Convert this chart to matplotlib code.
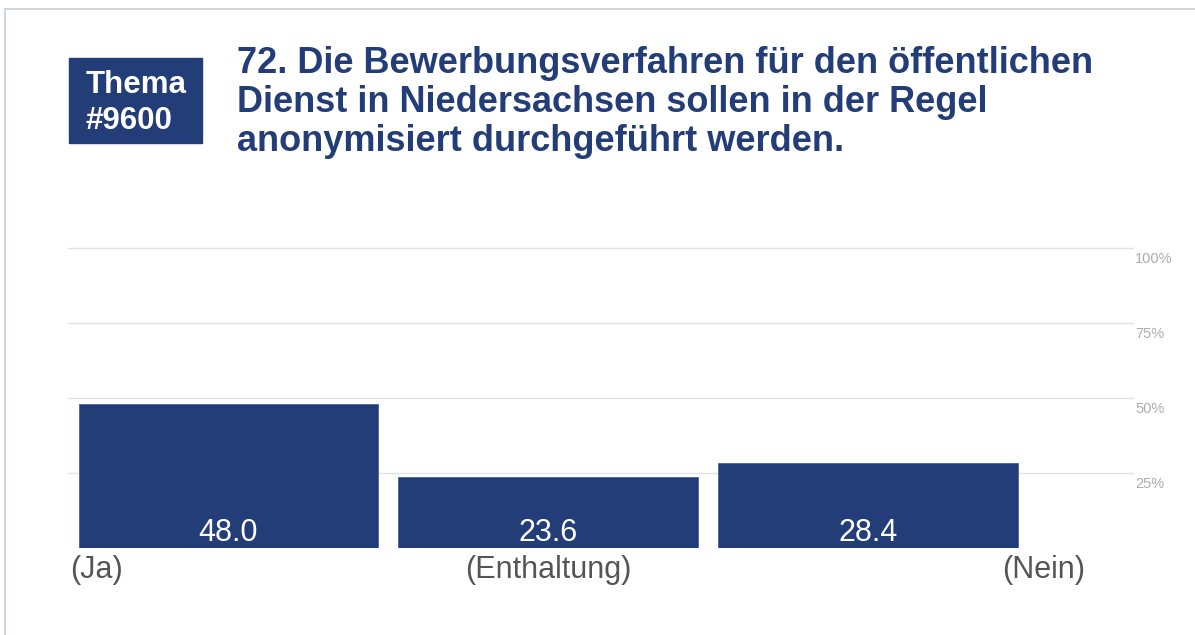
import matplotlib.pyplot as plt
from matplotlib.patches import Rectangle
from matplotlib.transforms import ScaledTranslation

plt.rcParams['font.family'] = ['Liberation Sans', 'DejaVu Sans']

# survey result, percent per answer
categories = ['(Ja)', '(Enthaltung)', '(Nein)']
shares = [48.0, 23.6, 28.4]
yticks = [25, 50, 75, 100]
ytick_labels = ['25%', '50%', '75%', '100%']
badge_text = 'Thema\n#9600'
title = ('72. Die Bewerbungsverfahren für den öffentlichen\n'
         'Dienst in Niedersachsen sollen in der Regel\n'
         'anonymisiert durchgeführt werden.')

navy = '#233d79'
W, H = 1195, 635

fig = plt.figure(figsize=(W / 100, H / 100), dpi=100)
fig.patch.set_facecolor('white')

# thin outer frame (top and left edges visible)
fig.patches.append(Rectangle((5 / W, -0.1), 1.2, 1 - 9 / H + 0.1,
                             transform=fig.transFigure, fill=False,
                             edgecolor='#c7cbda', lw=1.2))

# topic badge
fig.patches.append(Rectangle((69 / W, 1 - 143 / H), 133 / W, 85 / H,
                             transform=fig.transFigure, color=navy))
fig.text(86 / W, 1 - 103 / H, badge_text, color='white', fontsize=22.5,
         fontweight='bold', va='center', ha='left', linespacing=1.27)

# question title
fig.text(237 / W, 1 - 46 / H, title, color=navy, fontsize=26,
         fontweight='bold', va='top', ha='left', linespacing=1.15)

ax = fig.add_axes([68 / W, 87 / H, (1133 - 68) / W, 300 / H])
x = list(range(len(categories)))
ax.set_xlim(-0.5016, 2.827)
ax.set_ylim(0, 100)

# grid lines
for t in yticks:
    ax.axhline(t, color='#e2e2e2', lw=1, zorder=0, clip_on=False)

ax.bar(x, shares, width=0.9375, color=navy, edgecolor='#4a5f95',
       lw=0.6, zorder=2)

# values inside bars
for xi, v in zip(x, shares):
    ax.annotate(f'{v:.1f}', (xi, 0), xytext=(0, 5), textcoords='offset points',
                ha='center', va='baseline', color='white', fontsize=22,
                zorder=3)

# category labels: first left, middle centered, last right
ax.annotate(categories[0], (-0.5, 0), xytext=(1, -15.5),
            textcoords='offset points', ha='left', va='center',
            color='#555555', fontsize=22, annotation_clip=False)
ax.annotate(categories[1], (1, 0), xytext=(0, -15.5),
            textcoords='offset points', ha='center', va='center',
            color='#555555', fontsize=22, annotation_clip=False)
ax.annotate(categories[2], (2.677, 0), xytext=(0, -15.5),
            textcoords='offset points', ha='right', va='center',
            color='#555555', fontsize=22, annotation_clip=False)

# percent axis on the right, labels hanging just below each line
ax.yaxis.tick_right()
ax.set_yticks(yticks)
ax.set_yticklabels(ytick_labels)
ax.tick_params(axis='y', length=0, pad=1.5, labelsize=10.5,
               labelcolor='#acacac')
shift = ScaledTranslation(0, -3 / 72, fig.dpi_scale_trans)
for lbl in ax.get_yticklabels():
    lbl.set_verticalalignment('top')
    lbl.set_transform(lbl.get_transform() + shift)
ax.set_xticks([])
for s in ax.spines.values():
    s.set_visible(False)
ax.patch.set_alpha(0)

fig.savefig('out.png', dpi=100)
